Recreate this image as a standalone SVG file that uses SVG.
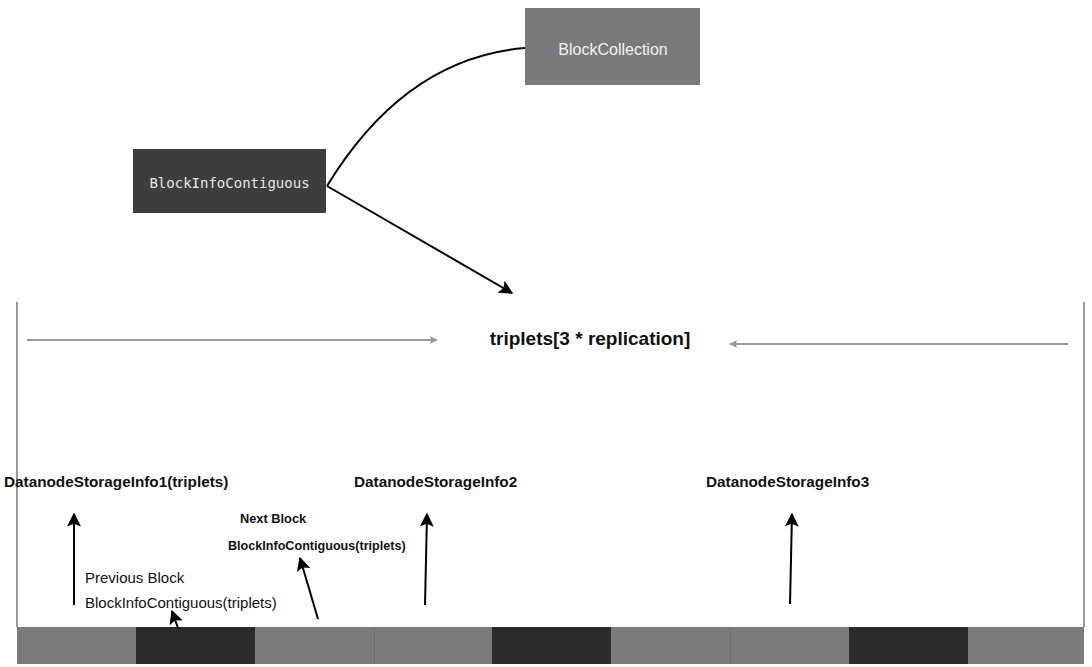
<svg xmlns="http://www.w3.org/2000/svg" width="1092" height="667" viewBox="0 0 1092 667">
<defs>
<marker id="ahBig" viewBox="0 0 10 10" refX="9" refY="5" markerWidth="18" markerHeight="14" markerUnits="userSpaceOnUse" orient="auto">
<path d="M0,0 L10,5 L0,10 L2,5 Z" fill="#000"/>
</marker>
<marker id="ahGray" viewBox="0 0 10 10" refX="9" refY="5" markerWidth="9" markerHeight="8" markerUnits="userSpaceOnUse" orient="auto">
<path d="M0,0 L10,5 L0,10 L2,5 Z" fill="#999"/>
</marker>
</defs>
<style>
.lbl{font-family:"Liberation Sans",Arial,sans-serif;fill:#111}
.b{font-weight:bold}
.conn{fill:none;stroke:#000;stroke-width:2}
.gconn{fill:none;stroke:#999;stroke-width:2}
.gray{fill:#7b7b7b}
.dark{fill:#2b2b2b}
</style>
<rect width="1092" height="667" fill="#fff"/>

<g id="node-blockcollection">
<rect x="525" y="8" width="175" height="77" fill="#7a7a7a"/>
<text x="613" y="55" text-anchor="middle" class="lbl" style="fill:#f2f2f2;font-size:16px">BlockCollection</text>
</g>

<g id="node-blockinfocontiguous">
<rect x="133" y="149" width="193" height="64" fill="#3d3d3d"/>
<text x="229.5" y="188" text-anchor="middle" style="font-family:'DejaVu Sans Mono',monospace;font-size:14px;fill:#e6e6e6">BlockInfoContiguous</text>
</g>

<g id="frame">
<line x1="17" y1="302" x2="17" y2="627" stroke="#999" stroke-width="2"/>
<line x1="1084" y1="302" x2="1084" y2="627" stroke="#999" stroke-width="2"/>
</g>

<g id="node-triplets">
<text x="590" y="345" text-anchor="middle" class="lbl b" style="font-size:19px">triplets[3 * replication]</text>
</g>

<g id="node-dsi1"><text x="4" y="487" class="lbl b" style="font-size:15.3px">DatanodeStorageInfo1(triplets)</text></g>
<g id="node-dsi2"><text x="354" y="487" class="lbl b" style="font-size:15.3px">DatanodeStorageInfo2</text></g>
<g id="node-dsi3"><text x="706" y="487" class="lbl b" style="font-size:15.3px">DatanodeStorageInfo3</text></g>

<g id="node-next">
<text x="240" y="523" class="lbl b" style="font-size:12.8px">Next Block</text>
<text x="228" y="550" class="lbl b" style="font-size:12.6px">BlockInfoContiguous(triplets)</text>
</g>

<g id="node-prev">
<text x="85" y="583" class="lbl" style="font-size:15px">Previous Block</text>
<text x="85" y="608" class="lbl" style="font-size:15px">BlockInfoContiguous(triplets)</text>
</g>

<g id="blocks">
<rect x="17" y="627" width="119" height="37" class="gray"/>
<rect x="136" y="627" width="119" height="37" class="dark"/>
<rect x="255" y="627" width="119" height="37" class="gray"/>
<rect x="374" y="627" width="118" height="37" class="gray"/>
<rect x="492" y="627" width="119" height="37" class="dark"/>
<rect x="611" y="627" width="119" height="37" class="gray"/>
<rect x="730" y="627" width="119" height="37" class="gray"/>
<rect x="849" y="627" width="119" height="37" class="dark"/>
<rect x="968" y="627" width="116" height="37" class="gray"/>
<g stroke="#6e6e6e" stroke-width="1">
<line x1="374.5" y1="627" x2="374.5" y2="664"/>
<line x1="730.5" y1="627" x2="730.5" y2="664"/>
</g>
</g>

<g id="connectors">
<path class="conn" d="M327,186 Q405,58 525,48"/>
<line class="conn" x1="327" y1="186" x2="512" y2="293" marker-end="url(#ahBig)"/>
<line class="gconn" x1="27" y1="340" x2="437" y2="340" marker-end="url(#ahGray)"/>
<line class="gconn" x1="1068" y1="344" x2="730" y2="344" marker-end="url(#ahGray)"/>
<line class="conn" x1="74" y1="605" x2="74" y2="514" marker-end="url(#ahBig)"/>
<line class="conn" x1="425" y1="605" x2="427" y2="514" marker-end="url(#ahBig)"/>
<line class="conn" x1="790" y1="604" x2="792" y2="514" marker-end="url(#ahBig)"/>
<line class="conn" x1="318" y1="619" x2="300" y2="558" marker-end="url(#ahBig)"/>
<line class="conn" x1="178" y1="628" x2="172" y2="611" marker-end="url(#ahBig)"/>
</g>
</svg>
